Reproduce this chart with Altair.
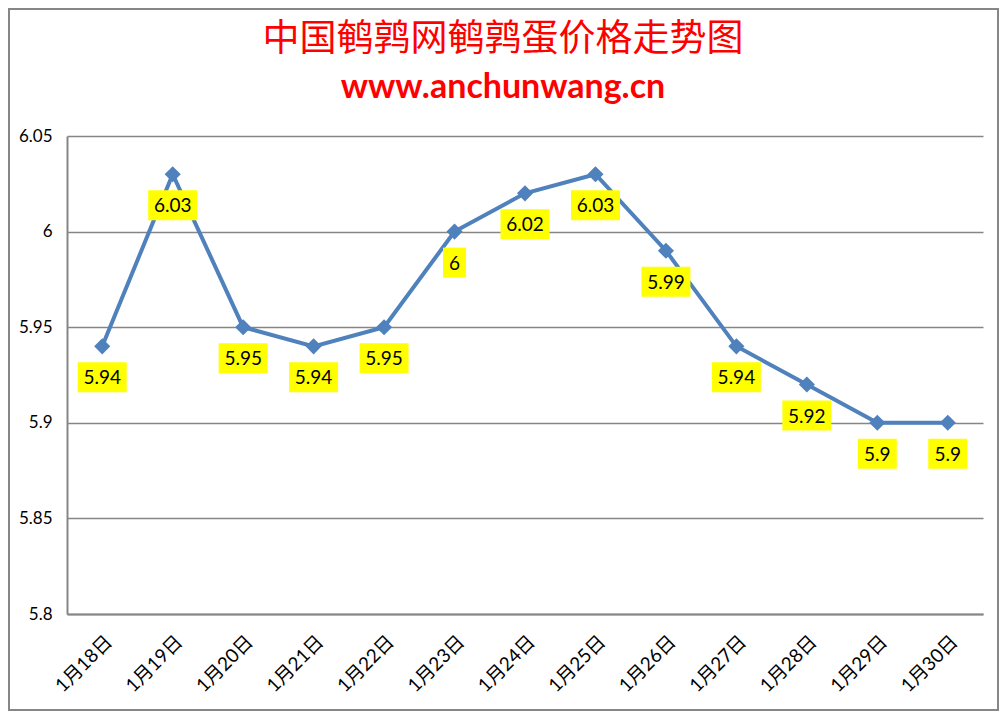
import altair as alt
import pandas as pd

title_text = "中国鹌鹑网鹌鹑蛋价格走势图"
subtitle_text = "www.anchunwang.cn"
dates = ["1月18日", "1月19日", "1月20日", "1月21日", "1月22日", "1月23日", "1月24日",
         "1月25日", "1月26日", "1月27日", "1月28日", "1月29日", "1月30日"]
prices = [5.94, 6.03, 5.95, 5.94, 5.95, 6.00, 6.02, 6.03, 5.99, 5.94, 5.92, 5.90, 5.90]
labels = ["5.94", "6.03", "5.95", "5.94", "5.95", "6", "6.02", "6.03", "5.99", "5.94", "5.92", "5.9", "5.9"]
y_ticks = [5.8, 5.85, 5.9, 5.95, 6.0, 6.05]

df = pd.DataFrame({"date": dates, "price": prices, "label": labels})
df["len"] = df["label"].str.len()

GRAY = "#868686"
BLUE = "#4F81BD"

x_enc = alt.X("date:N", sort=dates,
              scale=alt.Scale(type="point", padding=0.5),
              axis=alt.Axis(title=None, labelAngle=-45, labelAlign="right", labelBaseline="top",
                            labelFont="Lato, 'Noto Sans CJK SC'", labelFontSize=19,
                            labelColor="black", labelPadding=18, ticks=False,
                            domain=True, domainColor=GRAY, domainWidth=2, grid=False))
y_enc = alt.Y("price:Q", scale=alt.Scale(domain=[5.8, 6.05], nice=False, zero=False),
              axis=alt.Axis(title=None, values=y_ticks, format="~g", ticks=False,
                            labelFont="Lato", labelFontSize=17, labelColor="black",
                            labelPadding=15, domain=True, domainColor=GRAY, domainWidth=2,
                            grid=True, gridColor=GRAY, gridWidth=1.5))

base = alt.Chart(df)

line = base.mark_line(color=BLUE, strokeWidth=4).encode(x=x_enc, y=y_enc)
points = base.mark_point(shape="diamond", filled=True, size=260, color=BLUE, opacity=1).encode(
    x=x_enc, y=y_enc)

box_paths = ["M-0.46,-0.6L0.46,-0.6L0.46,0.6L-0.46,0.6Z",
             "M-0.78,-0.6L0.78,-0.6L0.78,0.6L-0.78,0.6Z",
             "M-0.98,-0.6L0.98,-0.6L0.98,0.6L-0.98,0.6Z"]
boxes = base.mark_point(filled=True, size=2500, color="#FFFF00", opacity=1, yOffset=31).encode(
    x=x_enc, y=y_enc,
    shape=alt.Shape("len:O", scale=alt.Scale(domain=[1, 3, 4], range=box_paths), legend=None))

texts = base.mark_text(font="Lato", fontSize=19, color="black", baseline="middle",
                       align="center", yOffset=32).encode(x=x_enc, y=y_enc, text="label:N")

one = alt.Data(values=[{"a": 1}])
border = alt.Chart(one).mark_rect(
    fill=None, stroke=GRAY, strokeWidth=2).encode(
    x=alt.value(-58), x2=alt.value(931), y=alt.value(-127), y2=alt.value(574))

title = alt.Chart(one).mark_text(
    text=title_text, font="Noto Sans CJK SC", fontSize=37, color="#FF0000",
    align="center", baseline="middle").encode(x=alt.value(436), y=alt.value(-96))
subtitle = alt.Chart(one).mark_text(
    text=subtitle_text, font="Lato", fontSize=34, fontWeight="bold", color="#FF0000",
    align="center", baseline="middle").encode(x=alt.value(436), y=alt.value(-48))

chart = alt.layer(line, points, boxes, texts, border, title, subtitle).properties(
    width=916, height=478,
    autosize=alt.AutoSizeParams(type="none"),
    padding={"left": 59, "top": 128, "right": 16, "bottom": 97},
).configure_view(stroke=None)

chart.save("out.html", embed_options={"renderer": "svg", "actions": False})
